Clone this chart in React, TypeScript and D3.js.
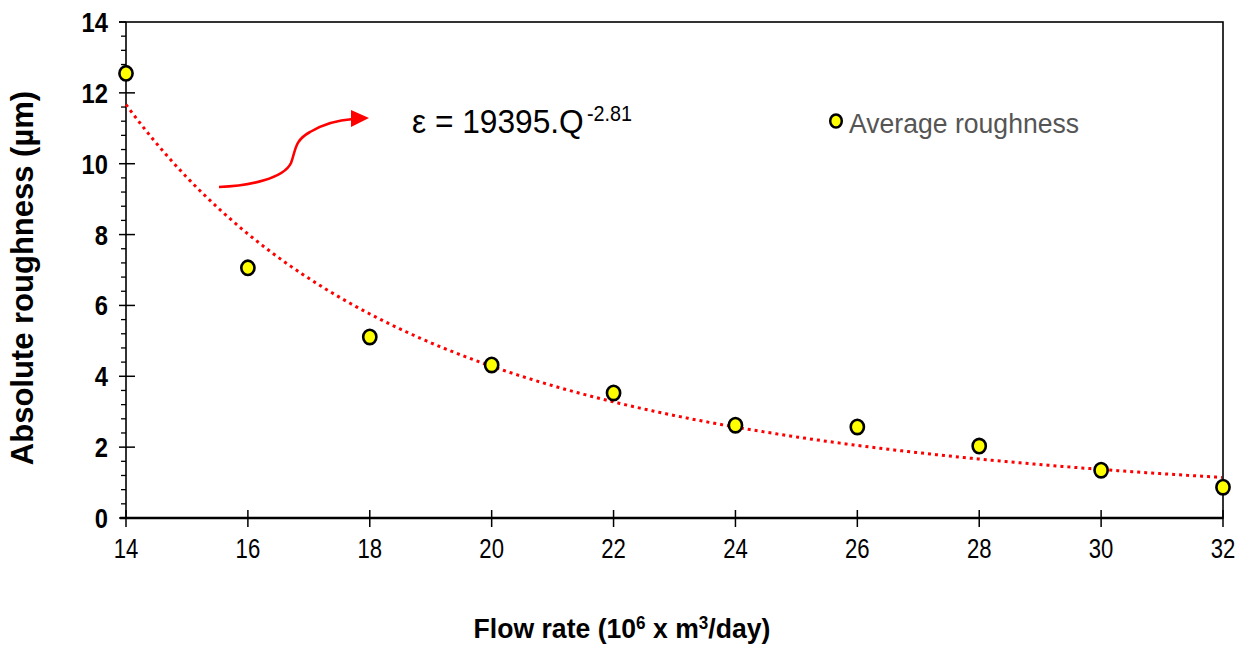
import * as d3 from 'd3';

// flow rate (10^6 m3/day) and measured average roughness (um)
const flowRates = [14, 16, 18, 20, 22, 24, 26, 28, 30, 32];
const roughness = [12.55, 7.06, 5.11, 4.32, 3.53, 2.62, 2.57, 2.03, 1.35, 0.87];
const xTicks = [14, 16, 18, 20, 22, 24, 26, 28, 30, 32];
const yTicks = [0, 2, 4, 6, 8, 10, 12, 14];
// power trendline coefficients shown on the chart: eps = a * Q^b
const trendCoef = [19395];
const trendExp = [-2.81];

const W = 1246;
const H = 646;
const FONT = "'Liberation Sans', Arial, sans-serif";

export default function App() {
  const x = d3.scaleLinear().domain([14, 32]).range([126, 1223]);
  const y = d3.scaleLinear().domain([0, 14]).range([518, 22]);

  const minorY = d3.range(0, 14.001, 0.4).filter(v => Math.abs(v / 2 - Math.round(v / 2)) > 0.01);

  const trendPts = d3.range(x(14), x(32) + 0.5, 2).map(px => {
    const q = x.invert(px);
    return [q, trendCoef[0] * Math.pow(q, trendExp[0])];
  });
  const trendLine = d3.line<number[]>()
    .x(d => x(d[0]))
    .y(d => y(d[1]));

  return (
    <svg width={W} height={H} style={{ position: 'absolute', left: 0, top: 0, background: '#fff' }}>
      {/* frame */}
      <rect x={126} y={22} width={1097} height={496} fill="none" stroke="#000" strokeWidth={1.6} />
      <line x1={120} x2={1223} y1={518} y2={518} stroke="#000" strokeWidth={2.4} />
      <line x1={119} x2={126} y1={22} y2={22} stroke="#000" strokeWidth={1.6} />

      {/* y ticks */}
      {yTicks.map(t => (
        <g key={'yt' + t}>
          <line x1={119} x2={t === 14 || t === 0 ? 126 : 135} y1={y(t)} y2={y(t)} stroke="#000" strokeWidth={1.5} />
          <text
            transform={`translate(108,${y(t) + 10}) scale(0.88,1.05)`}
            textAnchor="end"
            fontFamily={FONT}
            fontWeight="bold"
            fontSize={27}
          >{t}</text>
        </g>
      ))}
      {minorY.map(v => (
        <line key={'ym' + v} x1={121} x2={126} y1={y(v)} y2={y(v)} stroke="#000" strokeWidth={1.3} />
      ))}

      {/* x ticks */}
      {xTicks.map(t => (
        <g key={'xt' + t}>
          <line x1={x(t)} x2={x(t)} y1={510} y2={527} stroke="#000" strokeWidth={1.5} />
          <text
            transform={`translate(${x(t)},558) scale(0.82,1.05)`}
            textAnchor="middle"
            fontFamily={FONT}
            fontSize={27}
          >{t}</text>
        </g>
      ))}

      {/* trendline */}
      <path
        d={trendLine(trendPts) || ''}
        fill="none"
        stroke="#ff0000"
        strokeWidth={3}
        strokeDasharray="3 4"
      />

      {/* points */}
      {flowRates.map((f, i) => (
        <ellipse key={'p' + f} cx={x(f)} cy={y(roughness[i])} rx={6.6} ry={7.2} fill="#ffff00" stroke="#000" strokeWidth={2.6} />
      ))}

      {/* annotation arrow */}
      <path
        d="M219,187 C250,186 284,178 291,163 C296,150 294,141 310,132 C325,123 338,120 353,119"
        fill="none"
        stroke="#ff0000"
        strokeWidth={2.6}
      />
      <polygon points="351,110 369,118 351,127" fill="#ff0000" />

      {/* equation */}
      <text transform="translate(412,133) scale(0.96,1)" fontFamily={FONT} fontSize={33}>ε = 19395.Q</text>
      <text transform="translate(587,121) scale(0.9,1)" fontFamily={FONT} fontSize={22}>-2.81</text>

      {/* legend */}
      <ellipse cx={836} cy={121} rx={5.8} ry={6.6} fill="#ffff00" stroke="#000" strokeWidth={2.5} />
      <text transform="translate(849,133) scale(0.95,1)" fontFamily={FONT} fontSize={28} fill="#555">Average roughness</text>

      {/* axis titles */}
      <text
        transform="translate(33,278) rotate(-90)"
        textAnchor="middle"
        fontFamily={FONT}
        fontWeight="bold"
        fontSize={31}
      >Absolute roughness (µm)</text>
      <text
        transform="translate(622,638) scale(0.95,1)"
        textAnchor="middle"
        fontFamily={FONT}
        fontWeight="bold"
        fontSize={28}
      >
        Flow rate (10<tspan fontSize={18} dy={-9}>6</tspan>
        <tspan dy={9}> x m</tspan>
        <tspan fontSize={18} dy={-9}>3</tspan>
        <tspan dy={9}>/day)</tspan>
      </text>
    </svg>
  );
}
